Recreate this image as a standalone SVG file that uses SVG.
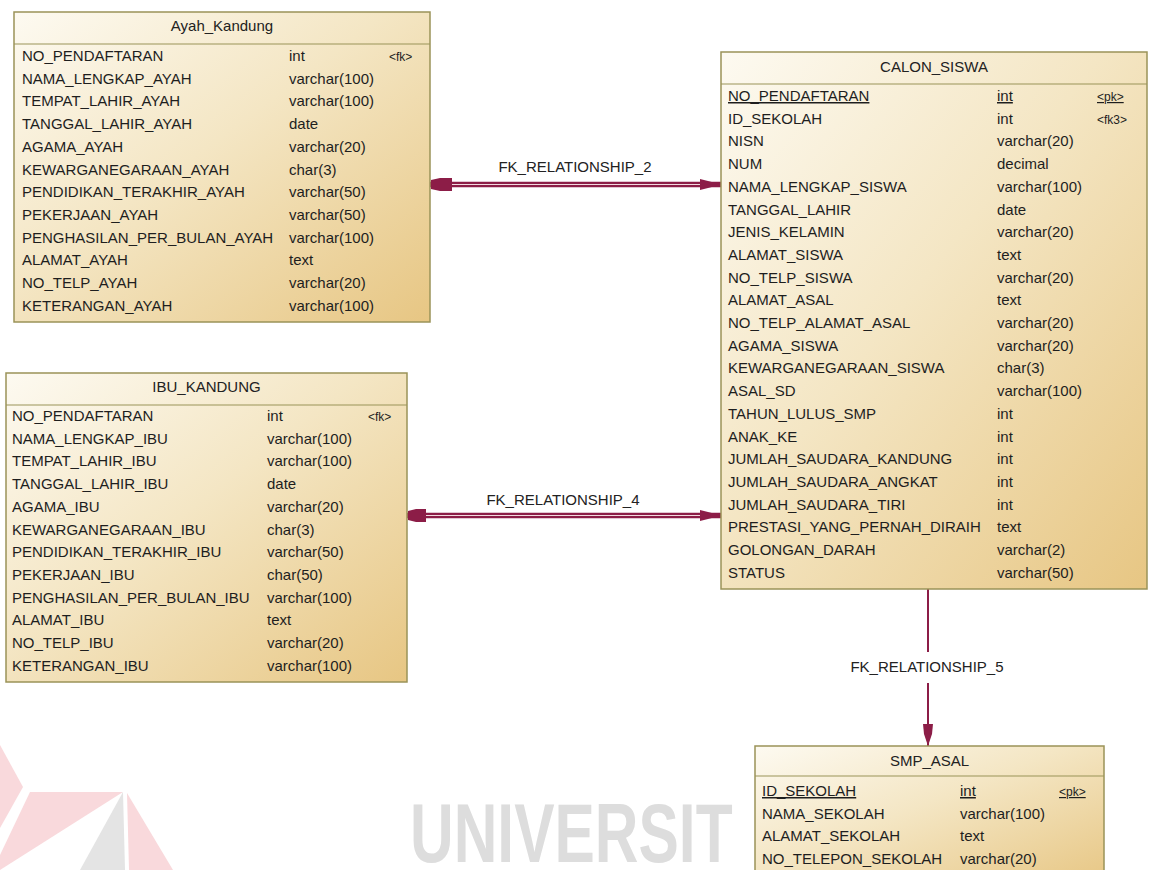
<svg xmlns="http://www.w3.org/2000/svg" width="1149" height="870" viewBox="0 0 1149 870">
  <defs>
    <linearGradient id="tableFill" x1="0" y1="0" x2="1" y2="1">
      <stop offset="0" stop-color="#fdfaf1"/>
      <stop offset="0.45" stop-color="#f4e6c4"/>
      <stop offset="1" stop-color="#e7c683"/>
    </linearGradient>
    <style>
      .box { fill: url(#tableFill); stroke: #9a9358; stroke-width: 1.5; }
      .sep { stroke: #9a9358; stroke-width: 1.2; }
      .title { font-family: "Liberation Sans", Arial, sans-serif; font-size: 15px; fill: #222; text-anchor: middle; }
      .col { font-family: "Liberation Sans", Arial, sans-serif; font-size: 15px; fill: #1e1e1e; }
      .key { font-family: "Liberation Sans", Arial, sans-serif; font-size: 12px; fill: #1e1e1e; }
      .pk { text-decoration: underline; }
      .lbl { font-family: "Liberation Sans", Arial, sans-serif; font-size: 15px; fill: #222; text-anchor: middle; }
      .rel { stroke: #8c1d47; fill: none; }
      .relIn { stroke: #f3d9df; stroke-width: 1.2; fill: none; }
      .head { fill: #8c1d47; stroke: none; }
      .wm { fill: #dddddd; font-family: "Liberation Sans", Arial, sans-serif; font-size: 84px; font-weight: bold; }
    </style>
  </defs>

  <rect width="1149" height="870" fill="#ffffff"/>

  <!-- background logo and lettering -->
  <g id="watermark">
    <polygon points="0,745 23,787 0,828" fill="#f9d9dc"/>
    <polygon points="30,792 123,792 0,870 0,855" fill="#f9d9dc"/>
    <polygon points="123,792 80,870 125,870" fill="#e4e4e4"/>
    <polygon points="127,793 129,870 173,870" fill="#f9d9dc"/>
    <text class="wm" transform="translate(410,862) scale(0.72,1)">UNIVERSIT</text>
  </g>

  <!-- relationships -->
  <g id="connectors">
    <!-- FK_RELATIONSHIP_2 -->
    <path class="rel" stroke-width="5.5" d="M430,184.5 H721"/>
    <path class="relIn" d="M446,184.5 H704"/>
    <polygon class="head" points="431,180 440,178 452,178 452,191 440,191 431,189"/>
    <polygon class="head" points="700,179 708,181 721,184.5 708,188 700,190"/>
    <text class="lbl" x="575" y="172">FK_RELATIONSHIP_2</text>

    <!-- FK_RELATIONSHIP_4 -->
    <path class="rel" stroke-width="5.5" d="M407,515.5 H721"/>
    <path class="relIn" d="M424,515.5 H704"/>
    <polygon class="head" points="408,511 416,509 426,509 426,522 416,522 408,520"/>
    <polygon class="head" points="700,510 708,512 721,515.5 708,519 700,521"/>
    <text class="lbl" x="563" y="505">FK_RELATIONSHIP_4</text>

    <!-- FK_RELATIONSHIP_5 -->
    <path class="rel" stroke-width="2" d="M928,589 V652 M928,683 V746"/>
    <polygon class="head" points="923,724 933,724 932,734 928,746 924,734"/>
    <text class="lbl" x="927" y="672">FK_RELATIONSHIP_5</text>
  </g>

  <!-- Ayah_Kandung -->
  <g id="ayah_kandung">
    <rect class="box" x="14" y="12" width="416" height="310"/>
    <line class="sep" x1="14" y1="44" x2="430" y2="44"/>
    <text class="title" x="222" y="31">Ayah_Kandung</text>
    <text class="col" x="22" y="61">NO_PENDAFTARAN</text><text class="col" x="289" y="61">int</text><text class="key" x="389" y="61">&lt;fk&gt;</text>
    <text class="col" x="22" y="83.7">NAMA_LENGKAP_AYAH</text><text class="col" x="289" y="83.7">varchar(100)</text>
    <text class="col" x="22" y="106.4">TEMPAT_LAHIR_AYAH</text><text class="col" x="289" y="106.4">varchar(100)</text>
    <text class="col" x="22" y="129.1">TANGGAL_LAHIR_AYAH</text><text class="col" x="289" y="129.1">date</text>
    <text class="col" x="22" y="151.8">AGAMA_AYAH</text><text class="col" x="289" y="151.8">varchar(20)</text>
    <text class="col" x="22" y="174.5">KEWARGANEGARAAN_AYAH</text><text class="col" x="289" y="174.5">char(3)</text>
    <text class="col" x="22" y="197.2">PENDIDIKAN_TERAKHIR_AYAH</text><text class="col" x="289" y="197.2">varchar(50)</text>
    <text class="col" x="22" y="219.9">PEKERJAAN_AYAH</text><text class="col" x="289" y="219.9">varchar(50)</text>
    <text class="col" x="22" y="242.6">PENGHASILAN_PER_BULAN_AYAH</text><text class="col" x="289" y="242.6">varchar(100)</text>
    <text class="col" x="22" y="265.3">ALAMAT_AYAH</text><text class="col" x="289" y="265.3">text</text>
    <text class="col" x="22" y="288">NO_TELP_AYAH</text><text class="col" x="289" y="288">varchar(20)</text>
    <text class="col" x="22" y="310.7">KETERANGAN_AYAH</text><text class="col" x="289" y="310.7">varchar(100)</text>
  </g>

  <!-- IBU_KANDUNG -->
  <g id="ibu_kandung">
    <rect class="box" x="6" y="373" width="401" height="309"/>
    <line class="sep" x1="6" y1="405" x2="407" y2="405"/>
    <text class="title" x="206.5" y="392">IBU_KANDUNG</text>
    <text class="col" x="12" y="421">NO_PENDAFTARAN</text><text class="col" x="267" y="421">int</text><text class="key" x="368" y="421">&lt;fk&gt;</text>
    <text class="col" x="12" y="443.7">NAMA_LENGKAP_IBU</text><text class="col" x="267" y="443.7">varchar(100)</text>
    <text class="col" x="12" y="466.4">TEMPAT_LAHIR_IBU</text><text class="col" x="267" y="466.4">varchar(100)</text>
    <text class="col" x="12" y="489.1">TANGGAL_LAHIR_IBU</text><text class="col" x="267" y="489.1">date</text>
    <text class="col" x="12" y="511.8">AGAMA_IBU</text><text class="col" x="267" y="511.8">varchar(20)</text>
    <text class="col" x="12" y="534.5">KEWARGANEGARAAN_IBU</text><text class="col" x="267" y="534.5">char(3)</text>
    <text class="col" x="12" y="557.2">PENDIDIKAN_TERAKHIR_IBU</text><text class="col" x="267" y="557.2">varchar(50)</text>
    <text class="col" x="12" y="579.9">PEKERJAAN_IBU</text><text class="col" x="267" y="579.9">char(50)</text>
    <text class="col" x="12" y="602.6">PENGHASILAN_PER_BULAN_IBU</text><text class="col" x="267" y="602.6">varchar(100)</text>
    <text class="col" x="12" y="625.3">ALAMAT_IBU</text><text class="col" x="267" y="625.3">text</text>
    <text class="col" x="12" y="648">NO_TELP_IBU</text><text class="col" x="267" y="648">varchar(20)</text>
    <text class="col" x="12" y="670.7">KETERANGAN_IBU</text><text class="col" x="267" y="670.7">varchar(100)</text>
  </g>

  <!-- CALON_SISWA -->
  <g id="calon_siswa">
    <rect class="box" x="721" y="52" width="426" height="537"/>
    <line class="sep" x1="721" y1="84" x2="1147" y2="84"/>
    <text class="title" x="934" y="72">CALON_SISWA</text>
    <text class="col pk" x="728" y="101">NO_PENDAFTARAN</text><text class="col pk" x="997" y="101">int</text><text class="key pk" x="1097" y="101">&lt;pk&gt;</text>
    <text class="col" x="728" y="123.7">ID_SEKOLAH</text><text class="col" x="997" y="123.7">int</text><text class="key" x="1097" y="123.7">&lt;fk3&gt;</text>
    <text class="col" x="728" y="146.4">NISN</text><text class="col" x="997" y="146.4">varchar(20)</text>
    <text class="col" x="728" y="169.1">NUM</text><text class="col" x="997" y="169.1">decimal</text>
    <text class="col" x="728" y="191.8">NAMA_LENGKAP_SISWA</text><text class="col" x="997" y="191.8">varchar(100)</text>
    <text class="col" x="728" y="214.5">TANGGAL_LAHIR</text><text class="col" x="997" y="214.5">date</text>
    <text class="col" x="728" y="237.2">JENIS_KELAMIN</text><text class="col" x="997" y="237.2">varchar(20)</text>
    <text class="col" x="728" y="259.9">ALAMAT_SISWA</text><text class="col" x="997" y="259.9">text</text>
    <text class="col" x="728" y="282.6">NO_TELP_SISWA</text><text class="col" x="997" y="282.6">varchar(20)</text>
    <text class="col" x="728" y="305.3">ALAMAT_ASAL</text><text class="col" x="997" y="305.3">text</text>
    <text class="col" x="728" y="328">NO_TELP_ALAMAT_ASAL</text><text class="col" x="997" y="328">varchar(20)</text>
    <text class="col" x="728" y="350.7">AGAMA_SISWA</text><text class="col" x="997" y="350.7">varchar(20)</text>
    <text class="col" x="728" y="373.4">KEWARGANEGARAAN_SISWA</text><text class="col" x="997" y="373.4">char(3)</text>
    <text class="col" x="728" y="396.1">ASAL_SD</text><text class="col" x="997" y="396.1">varchar(100)</text>
    <text class="col" x="728" y="418.8">TAHUN_LULUS_SMP</text><text class="col" x="997" y="418.8">int</text>
    <text class="col" x="728" y="441.5">ANAK_KE</text><text class="col" x="997" y="441.5">int</text>
    <text class="col" x="728" y="464.2">JUMLAH_SAUDARA_KANDUNG</text><text class="col" x="997" y="464.2">int</text>
    <text class="col" x="728" y="486.9">JUMLAH_SAUDARA_ANGKAT</text><text class="col" x="997" y="486.9">int</text>
    <text class="col" x="728" y="509.6">JUMLAH_SAUDARA_TIRI</text><text class="col" x="997" y="509.6">int</text>
    <text class="col" x="728" y="532.3">PRESTASI_YANG_PERNAH_DIRAIH</text><text class="col" x="997" y="532.3">text</text>
    <text class="col" x="728" y="555">GOLONGAN_DARAH</text><text class="col" x="997" y="555">varchar(2)</text>
    <text class="col" x="728" y="577.7">STATUS</text><text class="col" x="997" y="577.7">varchar(50)</text>
  </g>

  <!-- SMP_ASAL -->
  <g id="smp_asal">
    <rect class="box" x="755" y="746" width="349" height="140"/>
    <line class="sep" x1="755" y1="776" x2="1104" y2="776"/>
    <text class="title" x="929.5" y="766">SMP_ASAL</text>
    <text class="col pk" x="762" y="796">ID_SEKOLAH</text><text class="col pk" x="960" y="796">int</text><text class="key pk" x="1059" y="796">&lt;pk&gt;</text>
    <text class="col" x="762" y="818.7">NAMA_SEKOLAH</text><text class="col" x="960" y="818.7">varchar(100)</text>
    <text class="col" x="762" y="841.4">ALAMAT_SEKOLAH</text><text class="col" x="960" y="841.4">text</text>
    <text class="col" x="762" y="864.1">NO_TELEPON_SEKOLAH</text><text class="col" x="960" y="864.1">varchar(20)</text>
  </g>
</svg>
